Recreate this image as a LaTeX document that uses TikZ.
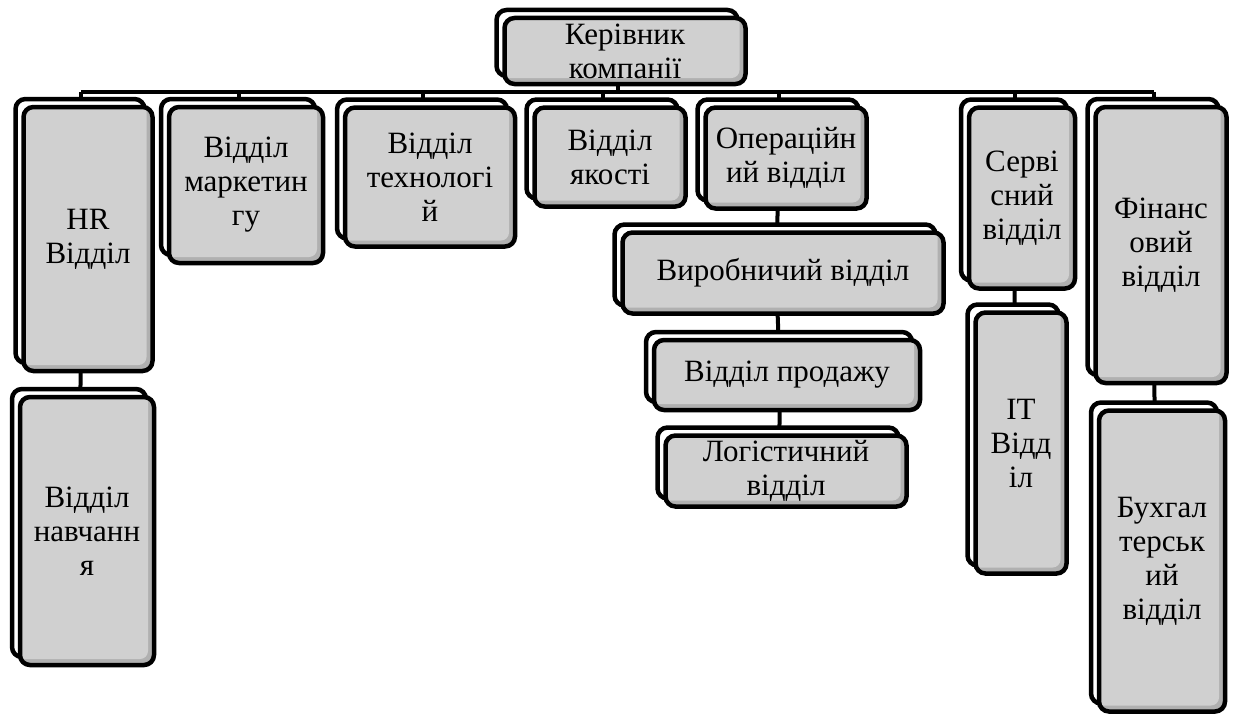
\documentclass[tikz,border=0pt]{standalone}
\usepackage{fontspec}
\setmainfont{Liberation Serif}
\usetikzlibrary{positioning,shadows,backgrounds}
\definecolor{boxgray}{RGB}{208,208,208}
\definecolor{shadegray}{RGB}{176,176,176}

\begin{document}
\begin{tikzpicture}[
        x=1pt, y=-1pt,
        dept/.style={rectangle, rounded corners=10pt, draw=black, line width=4.5pt,
                     fill=shadegray, inner sep=0pt, align=center, text=black,
                     font=\fontsize{31}{34}\selectfont,
                     copy shadow={shadow xshift=-8pt, shadow yshift=8pt,
                                  fill=white, draw=black, line width=4.5pt},
                     path picture={\fill[boxgray, rounded corners=8pt]
                        ([shift={(-6pt,6pt)}]path picture bounding box.south west) rectangle
                        ([shift={(-6pt,6pt)}]path picture bounding box.north east);}},
        link/.style={draw=black, line width=4pt}
    ]
        \useasboundingbox (0,0) rectangle (1238,717);

        % head of the company
        \node[dept, minimum width=241pt, minimum height=66pt] (boss) at (625,51) {Керівник\\компанії};

        % first level
        \node[dept, minimum width=129pt, minimum height=264pt] (hr) at (88,239) {HR\\Відділ};
        \node[dept, minimum width=154pt, minimum height=156pt] (mkt) at (246,185) {Відділ\\маркетин\\гу};
        \node[dept, minimum width=170pt, minimum height=139pt] (tech) at (430,177) {Відділ\\технологі\\й};
        \node[dept, minimum width=151pt, minimum height=99pt] (qual) at (610,157) {Відділ\\якості};
        \node[dept, minimum width=161pt, minimum height=101pt] (ops) at (786,158) {Операційн\\ий відділ};
        \node[dept, minimum width=106pt, minimum height=181pt] (serv) at (1022,198) {Серві\\сний\\відділ};
        \node[dept, minimum width=131pt, minimum height=276pt] (fin) at (1161,245) {Фінанс\\овий\\відділ};

        % second level
        \node[dept, minimum width=134pt, minimum height=268pt] (train) at (87,531) {Відділ\\навчанн\\я};
        \node[dept, minimum width=321pt, minimum height=81pt] (prod) at (783,273) {Виробничий відділ};
        \node[dept, minimum width=266pt, minimum height=70pt] (sales) at (787,375) {Відділ продажу};
        \node[dept, minimum width=241pt, minimum height=71pt] (logi) at (786,471) {Логістичний\\відділ};
        \node[dept, minimum width=91pt, minimum height=261pt] (it) at (1021,443) {IT\\Відд\\іл};
        \node[dept, minimum width=126pt, minimum height=301pt] (acc) at (1162,561) {Бухгал\\терськ\\ий\\відділ};

        % connectors
        \coordinate (bus) at (0,92);
        \begin{scope}[on background layer]
            \draw[link] ([xshift=-7pt]boss.center) -- ([xshift=-7pt]boss.center |- bus);
            \draw[link] ([xshift=-7pt]hr.center |- bus) -- ([xshift=-7pt]fin.center |- bus);
            \foreach \n in {hr,mkt,tech,qual,ops,serv,fin}
                \draw[link] ([xshift=-7pt]\n.center |- bus) -- ([xshift=-7pt]\n.center);
            \draw[link] ([xshift=-7pt]hr.center) -- ([xshift=-7pt]train.center);
            \draw[link] ([xshift=-7pt]ops.center) -- ([xshift=-7pt]prod.center);
            \draw[link] ([xshift=-7pt]prod.center) -- ([xshift=-7pt]sales.center);
            \draw[link] ([xshift=-7pt]sales.center) -- ([xshift=-7pt]logi.center);
            \draw[link] ([xshift=-7pt]serv.center) -- ([xshift=-7pt]it.center);
            \draw[link] ([xshift=-7pt]fin.center) -- ([xshift=-7pt]acc.center);
        \end{scope}
    \end{tikzpicture}
\end{document}
